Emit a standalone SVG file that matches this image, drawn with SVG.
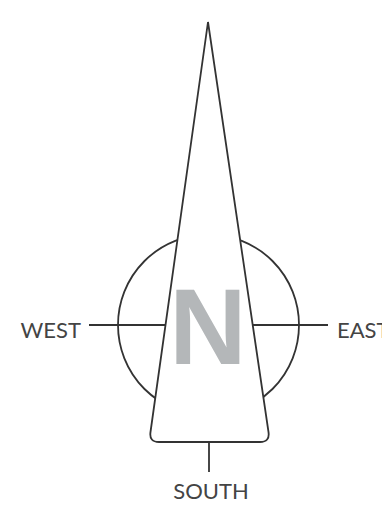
<svg xmlns="http://www.w3.org/2000/svg" width="382" height="520" viewBox="0 0 382 520">
<style>
.ln{fill:none;stroke:#333;stroke-width:1.8}
.lbl{font-family:Lato,"Open Sans",sans-serif;font-size:22px;fill:#444}
</style>
<rect width="382" height="520" fill="#fff"/>
<g id="ring"><circle class="ln" cx="208.5" cy="325" r="90.5"/></g>
<g id="connectors">
<line class="ln" x1="89" y1="325" x2="167" y2="325"/>
<line class="ln" x1="251" y1="325" x2="328" y2="325"/>
<line class="ln" x1="209" y1="442" x2="209" y2="472"/>
</g>
<g id="needle">
<path class="ln" style="fill:#fff" d="M208,22 L268.5,432 Q270,442 260,442 L159,442 Q149,442 150.5,432 Z"/>
<text x="208" y="364" text-anchor="middle" font-family="'Liberation Sans',Arial,sans-serif" font-weight="bold" font-size="107" fill="#b4b7b9">N</text>
</g>
<g id="west"><text class="lbl" x="81" y="338" text-anchor="end">WEST</text></g>
<g id="east"><text class="lbl" x="337" y="338">EAST</text></g>
<g id="south"><text class="lbl" x="211" y="499" text-anchor="middle">SOUTH</text></g>
</svg>
